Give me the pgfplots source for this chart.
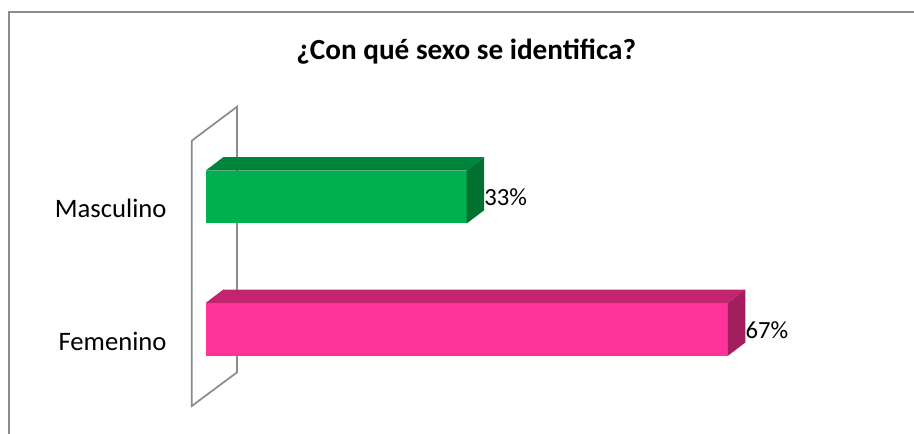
\documentclass[border=0pt]{standalone}
\usepackage{pgfplots}
\pgfplotsset{compat=1.18}
\usepackage{fontspec}
\setmainfont{Carlito}

\definecolor{verde}{HTML}{00B050}
\definecolor{verdetop}{HTML}{00843C}
\definecolor{verdeside}{HTML}{007130}
\definecolor{rosa}{HTML}{FF3399}
\definecolor{rosatop}{HTML}{C2246F}
\definecolor{rosaside}{HTML}{A21E5E}
\definecolor{marco}{HTML}{8C8C8C}

\begin{document}
\begin{tikzpicture}
\useasboundingbox (0,0) rectangle (685.5pt,325.5pt);
% chart frame
\draw[marco, line width=1.4pt] (6.5pt,-5pt) -- (6.5pt,316.5pt) -- (700pt,316.5pt);
\node[font=\fontsize{21.9}{26}\selectfont\bfseries, anchor=base, inner sep=0pt]
  at (349.7pt,281pt) {¿Con qué sexo se identifica?};

\begin{axis}[
  at={(154.3pt,78.45pt)}, anchor=origin,
  x=5.8725pt, y=99.3pt,
  xmin=-4.98, xmax=100, ymin=-0.8, ymax=1.8,
  clip=false,
  axis line style={draw=none},
  major tick style={draw=none},
  xtick=\empty,
  ytick={0,1},
  yticklabels={Femenino,Masculino},
  yticklabel style={font=\fontsize{20}{24}\selectfont, inner sep=0pt, anchor=east, yshift=-8.8pt},
  point meta=explicit symbolic,
  every node near coord/.append style={font=\fontsize{18.5}{22}\selectfont, anchor=west, inner sep=0pt, xshift=13.1pt, yshift=-0.5pt},
]
% back wall
\addplot[marco, line width=1.3pt, mark=none] coordinates
  {(-1.788,1.425) (4.0,1.682) (4.0,-0.324) (-1.788,-0.579)} --cycle;

% Masculino
\addplot[xbar, bar width=0.4, bar shift=0pt, fill=verde, draw=none, nodes near coords]
  coordinates {(33.33,1) [33\%]};
\addplot[fill=verdetop, draw=none, mark=none] coordinates
  {(0,1.2) (2.235,1.3005) (35.565,1.3005) (33.33,1.2)} --cycle;
\addplot[fill=verdeside, draw=none, mark=none] coordinates
  {(33.33,1.2) (35.565,1.3005) (35.565,0.9005) (33.33,0.8)} --cycle;

% Femenino
\addplot[xbar, bar width=0.4, bar shift=0pt, fill=rosa, draw=none, nodes near coords]
  coordinates {(66.67,0) [67\%]};
\addplot[fill=rosatop, draw=none, mark=none] coordinates
  {(0,0.2) (2.235,0.3005) (68.905,0.3005) (66.67,0.2)} --cycle;
\addplot[fill=rosaside, draw=none, mark=none] coordinates
  {(66.67,0.2) (68.905,0.3005) (68.905,-0.0995) (66.67,-0.2)} --cycle;
\end{axis}
\end{tikzpicture}
\end{document}
